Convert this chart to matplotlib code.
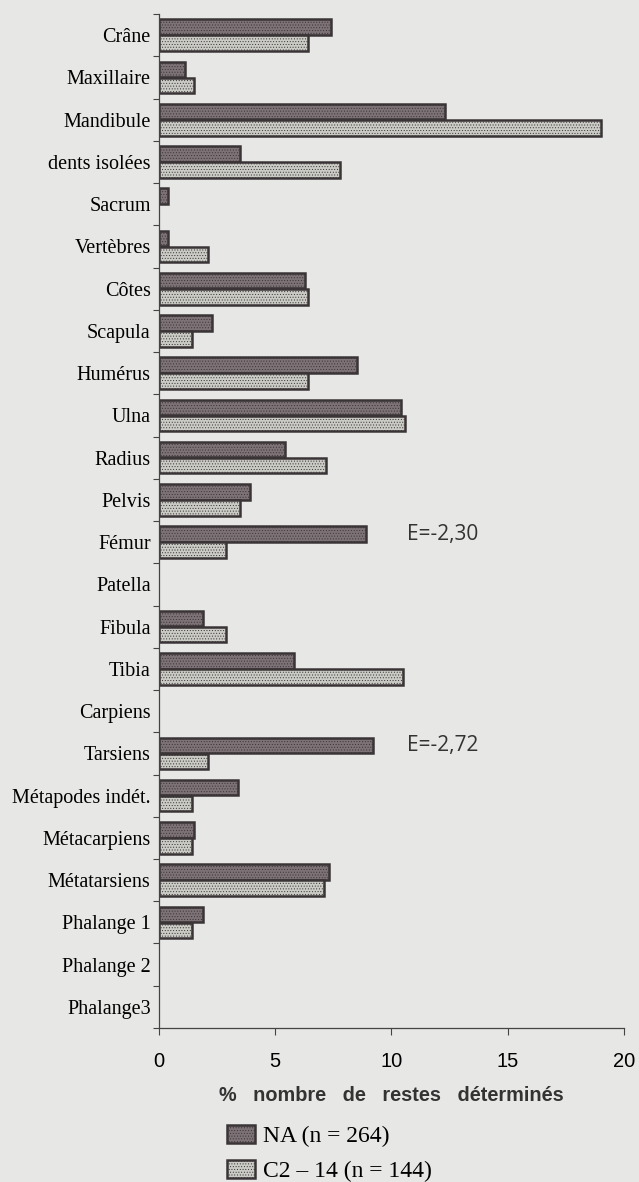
import numpy as np
import matplotlib
matplotlib.use("Agg")
from matplotlib import pyplot as plt

# data
categories = ["Crâne", "Maxillaire", "Mandibule", "dents isolées", "Sacrum",
              "Vertèbres", "Côtes", "Scapula", "Humérus", "Ulna", "Radius",
              "Pelvis", "Fémur", "Patella", "Fibula", "Tibia", "Carpiens",
              "Tarsiens", "Métapodes indét.", "Métacarpiens", "Métatarsiens",
              "Phalange 1", "Phalange 2", "Phalange3"]
na_vals = [7.4, 1.1, 12.3, 3.5, 0.4, 0.4, 6.3, 2.3, 8.5, 10.4, 5.4, 3.9,
           8.9, 0, 1.9, 5.8, 0, 9.2, 3.4, 1.5, 7.3, 1.9, 0, 0]
c2_vals = [6.4, 1.5, 19.0, 7.8, 0, 2.1, 6.4, 1.4, 6.4, 10.6, 7.2, 3.5,
           2.9, 0, 2.9, 10.5, 0, 2.1, 1.4, 1.4, 7.1, 1.4, 0, 0]
series_names = ["NA (n = 264)", "C2 – 14 (n = 144)"]
notes = {"Fémur": "E=-2,30", "Tarsiens": "E=-2,72"}
xticks = [0, 5, 10, 15, 20]

bg = "#e7e7e5"
plt.rcParams['hatch.color'] = "#5a5a5a"
plt.rcParams['hatch.linewidth'] = 0.4

fig = plt.figure(figsize=(6.39, 11.82), dpi=100, facecolor=bg)
ax = fig.add_axes([0.2488, 0.1303, 0.7277, 0.8578])
ax.set_facecolor(bg)

y = np.arange(len(categories))
h = 0.37
b1 = ax.barh(y - 0.19, na_vals, height=h, color="#7d7377", edgecolor="#3a3436",
             linewidth=1.8, hatch="......", label=series_names[0])
b2 = ax.barh(y + 0.19, c2_vals, height=h, color="#cbcbc6", edgecolor="#3a3436",
             linewidth=1.8, hatch="......", label=series_names[1])
# zero bars are not drawn in the original
for p in list(b1.patches) + list(b2.patches):
    if p.get_width() == 0:
        p.set_visible(False)

for name, txt in notes.items():
    i = categories.index(name)
    ax.text(10.65, i - 0.19, txt, va="center", ha="left", fontsize=15,
            family="Open Sans", color="#333333")

ax.set_xlim(0, 20)
ax.set_ylim(len(categories) - 0.5, -0.5)
ax.set_yticks(y)
ax.set_yticklabels(categories, family="Liberation Serif", fontsize=14.5)
ax.tick_params(axis="y", length=0, pad=6)
ax.set_yticks(np.arange(-0.5, len(categories), 1), minor=True)
ax.tick_params(axis="y", which="minor", length=4, width=0.8, color="#444444")
ax.set_xticks(xticks)
ax.set_xticklabels([str(t) for t in xticks], family="Liberation Sans", fontsize=14.5)
ax.tick_params(axis="x", length=5, width=0.8, color="#444444", pad=12)
for s in ["top", "right"]:
    ax.spines[s].set_visible(False)
for s in ["left", "bottom"]:
    ax.spines[s].set_color("#444444")
    ax.spines[s].set_linewidth(0.9)

ax.set_xlabel("%   nombre   de   restes   déterminés", family="Liberation Sans",
              fontweight="bold", fontsize=14.3, labelpad=11, color="#333333")

leg = fig.legend(handles=[b1, b2], loc="upper left", bbox_to_anchor=(0.355, 0.048),
                 frameon=False, prop={"family": "Liberation Serif", "size": 17},
                 handlelength=1.19, handleheight=0.76, labelspacing=0.55,
                 handletextpad=0.34, borderpad=0, borderaxespad=0)

fig.savefig("out.png", dpi=100, facecolor=bg)
